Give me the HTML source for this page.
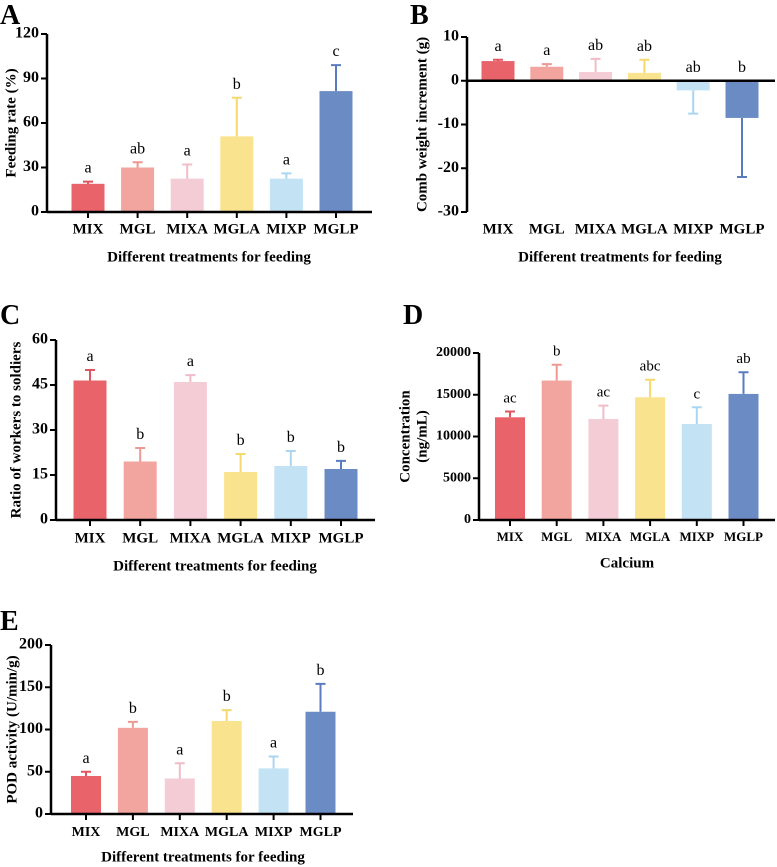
<!DOCTYPE html>
<html><head><meta charset="utf-8"><style>
body{margin:0;background:#fff}
svg{display:block;font-family:"Liberation Serif",serif}
</style></head><body>
<svg id="fig" width="777" height="867" viewBox="0 0 777 867"></svg>
<script>
const categories=["MIX","MGL","MIXA","MGLA","MIXP","MGLP"];
const colors=["#e8636a","#f2a59f","#f4ccd5","#fae38f","#c3e3f5","#6b8bc4"];
const errColors=["#e05560","#ee9892","#f0bcc8","#f5d86e","#aad6f0","#5a7cbf"];
const aValues=[19,30,22.5,51,22.5,81.5];
const aErr=[20.5,33.5,32,77,26,99];
const aLetters=["a","ab","a","b","a","c"];
const aTicks=[0,30,60,90,120];
const bValues=[4.5,3.2,2,1.8,-2.2,-8.5];
const bErr=[4.8,3.8,5,4.8,-7.5,-22];
const bLetters=["a","a","ab","ab","ab","b"];
const bTicks=[-30,-20,-10,0,10];
const cValues=[46.5,19.5,46,16,18,17];
const cErr=[50,24,48.3,22,23,19.7];
const cLetters=["a","b","a","b","b","b"];
const cTicks=[0,15,30,45,60];
const dValues=[12300,16700,12100,14700,11500,15100];
const dErr=[13000,18600,13700,16800,13500,17700];
const dLetters=["ac","b","ac","abc","c","ab"];
const dTicks=[0,5000,10000,15000,20000];
const eValues=[45,102,42,110,54,121];
const eErr=[50,109,60,123,68,154];
const eLetters=["a","b","a","b","a","b"];
const eTicks=[0,50,100,150,200];

const NS="http://www.w3.org/2000/svg";
const svg=document.getElementById("fig");
function mk(tag,attrs,parent,text){const e=document.createElementNS(NS,tag);for(const k in attrs)e.setAttribute(k,attrs[k]);if(text!==undefined)e.textContent=text;(parent||svg).appendChild(e);return e;}

function panel(p){
  const g=mk("g",{});
  
  
  const y=v=>p.y0+(v-p.min)/(p.max-p.min)*(p.y1-p.y0);
  const x=i=>p.x0+i*p.step;
  const lab=mk("text",{x:p.lx,y:p.ly,"font-size":28,"font-weight":"bold"},g,p.id);
  
  
  const zeroY=y(0);
  p.values.forEach((v,i)=>{
    const top=Math.min(y(v),zeroY),h=Math.abs(y(v)-zeroY);
    const r=mk("rect",{x:x(i)-p.bw/2,y:top,width:p.bw,height:h,fill:colors[i]},g);
    
    
    const ey=y(p.err[i]);
    const eb=mk("path",{d:`M${x(i)} ${y(v)}V${ey}M${x(i)-5} ${ey}H${x(i)+5}`,stroke:errColors[i],"stroke-width":2,fill:"none"},g);
    
    
    const ly=(p.err[i]>=0?Math.min(ey,y(v)):zeroY)-9;
    const t=mk("text",{x:x(i),y:ly,"text-anchor":"middle","font-size":p.lfs||16},g,p.letters[i]);
    
    
    const c=mk("text",{x:x(i),y:p.catY,"text-anchor":"middle","font-size":p.cfs||15,"font-weight":"bold","dominant-baseline":"middle"},g,categories[i]);
    
    
    mk("line",{x1:x(i),x2:x(i),y1:zeroY,y2:zeroY+(p.min<0?0:6),stroke:"#000","stroke-width":2},g);
  });
  const ax=mk("path",{d:`M${p.ax} ${p.y1}V${p.y0}`,stroke:"#000","stroke-width":2.5,fill:"none"},g);
  
  
  const xa=mk("path",{d:`M${p.ax} ${zeroY}H${p.axEnd}`,stroke:"#000","stroke-width":2.5},g);
  
  
  p.ticks.forEach(t=>{
    mk("line",{x1:p.ax-6,x2:p.ax,y1:y(t),y2:y(t),stroke:"#000","stroke-width":2},g);
    const tt=mk("text",{x:p.ax-8,y:y(t),"text-anchor":"end","dominant-baseline":"middle","font-size":p.tfs||16,"font-weight":"bold"},g,t);
    
    
  });
  const cy=(p.y0+p.y1)/2;
  p.ytitle.forEach((s,k)=>{
    const yt=mk("text",{x:0,y:0,transform:`translate(${p.ytx+k*17},${cy}) rotate(-90)`,"text-anchor":"middle","dominant-baseline":"middle","font-size":15,"font-weight":"bold"},g,s);
    
    
  });
  const xt=mk("text",{x:p.xtx,y:p.xty,"text-anchor":"middle","dominant-baseline":"middle","font-size":15,"font-weight":"bold"},g,p.xtitle);
  
  
}
const DT="Different treatments for feeding";
panel({id:"A",lx:0,ly:24,values:aValues,err:aErr,letters:aLetters,ticks:aTicks,min:0,max:120,y0:212,y1:34,ax:47,axEnd:372,x0:88,step:49.6,bw:33,catY:230,ytitle:["Feeding rate (%)"],ytx:12,xtx:209,xty:258,xtitle:DT});
panel({id:"B",lx:410,ly:24,values:bValues,err:bErr,letters:bLetters,ticks:bTicks,min:-30,max:10,y0:212,y1:37,ax:467,axEnd:775,x0:498,step:48.8,bw:33,catY:230,ytitle:["Comb weight  increment (g)"],ytx:423,xtx:620,xty:258,xtitle:DT});
panel({id:"C",lx:0,ly:324,values:cValues,err:cErr,letters:cLetters,ticks:cTicks,min:0,max:60,y0:520,y1:340,ax:56,axEnd:375,x0:90,step:50.2,bw:33,catY:539,ytitle:["Ratio of workers to soldiers"],ytx:17,xtx:215,xty:567,xtitle:DT});
panel({id:"D",lx:403,ly:324,values:dValues,err:dErr,letters:dLetters,ticks:dTicks,min:0,max:20000,y0:520,y1:353,ax:479,axEnd:775,x0:510,step:46.7,bw:30,catY:538,tfs:14,lfs:15,cfs:13,ytitle:["Concentration","(ng/mL)"],ytx:406,xtx:627,xty:564,xtitle:"Calcium"});
panel({id:"E",lx:0,ly:630,values:eValues,err:eErr,letters:eLetters,ticks:eTicks,min:0,max:200,y0:814,y1:645,ax:51,axEnd:353,x0:86,step:46.9,bw:30,catY:833,cfs:14,ytitle:["POD activity (U/min/g)"],ytx:13,xtx:203,xty:858,xtitle:DT});
</script>
</body></html>
